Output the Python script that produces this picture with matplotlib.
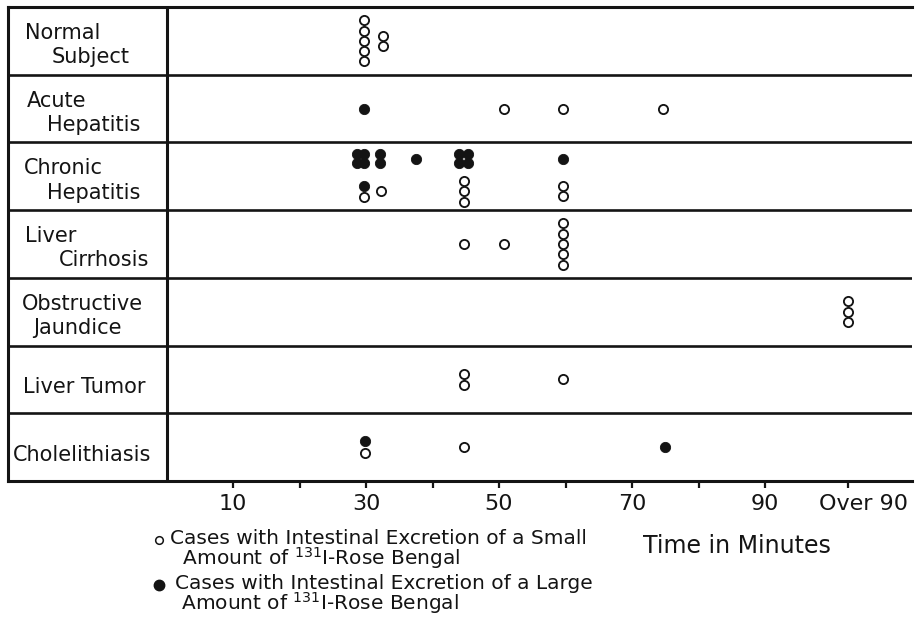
import matplotlib.pyplot as plt
from matplotlib.transforms import ScaledTranslation
import numpy as np

# rows of the table, top to bottom
categories = ['Normal Subject', 'Acute Hepatitis', 'Chronic Hepatitis',
              'Liver Cirrhosis', 'Obstructive Jaundice', 'Liver Tumor',
              'Cholelithiasis']
label_lines = [['Normal', 'Subject'], ['Acute', 'Hepatitis'],
               ['Chronic', 'Hepatitis'], ['Liver', 'Cirrhosis'],
               ['Obstructive', 'Jaundice'], ['Liver Tumor'],
               ['Cholelithiasis']]

# one entry per stacked column of cases
# marks top to bottom: o = small amount excreted, f = large amount excreted
case_rows = [0, 0,
             1, 1, 1, 1,
             2, 2, 2, 2, 2, 2, 2,
             2, 2, 2, 2,
             3, 3, 3,
             4,
             5, 5,
             6, 6, 6]
case_times = [29.7, 32.6,
              29.7, 50.7, 59.6, 74.6,
              28.6, 29.7, 32.1, 37.5, 44.0, 45.3, 59.6,
              29.7, 32.3, 44.7, 59.6,
              44.7, 50.7, 59.6,
              102.5,
              44.7, 59.6,
              29.8, 44.7, 74.9]
case_marks = ['ooooo', 'oo',
              'f', 'o', 'o', 'o',
              'ff', 'ff', 'ff', 'f', 'ff', 'ff', 'f',
              'fo', 'o', 'ooo', 'oo',
              'o', 'o', 'ooooo',
              'ooo',
              'oo', 'o',
              'fo', 'o', 'f']
case_tiers = ['mid', 'mid',
              'mid', 'mid', 'mid', 'mid',
              'up', 'up', 'up', 'up', 'up', 'up', 'up',
              'low', 'low', 'low', 'low',
              'mid', 'mid', 'mid',
              'mid',
              'mid', 'mid',
              'mid', 'mid', 'mid']

tick_pos = [10, 20, 30, 40, 50, 60, 70, 80, 90, 102.5]
tick_labels = ['10', '', '30', '', '50', '', '70', '', '90', 'Over 90']

key_small = 'Cases with Intestinal Excretion of a Small\n  Amount of $^{131}$I-Rose Bengal'
key_large = 'Cases with Intestinal Excretion of a Large\n Amount of $^{131}$I-Rose Bengal'
x_title = 'Time in Minutes'

ink = '#141414'
W, H = 921, 620
PX_PER_MIN = 6.65
ROW_PX = 67.7

fig = plt.figure(figsize=(W / 100, H / 100), dpi=100)
ax = fig.add_axes([8 / W, 1 - 481 / H, (912 - 8) / W, (481 - 7) / H])
ax.set_xlim((8 - 166.5) / PX_PER_MIN, (912 - 166.5) / PX_PER_MIN)
ax.set_ylim(len(categories), 0)

tier_shift = {'mid': 0.0, 'up': -17.5, 'low': 15.0}


def column_offsets(marks):
    pos = [0.0]
    for a, b in zip(marks[:-1], marks[1:]):
        if a == 'f' and b == 'f':
            gap = 9.0
        elif a != b:
            gap = 11.5
        else:
            gap = 10.3
        pos.append(pos[-1] + gap)
    pos = np.array(pos)
    return pos - pos.mean()


for r, t, m, tier in zip(case_rows, case_times, case_marks, case_tiers):
    ys = r + 0.5 + (tier_shift[tier] + column_offsets(m)) / ROW_PX
    for y, kind in zip(ys, m):
        if kind == 'o':
            ax.plot(t, y, 'o', ms=6.6, mfc='white', mec=ink, mew=1.35,
                    clip_on=False, zorder=3)
        else:
            ax.plot(t, y, 'o', ms=7.4, mfc=ink, mec=ink, mew=0.6,
                    clip_on=False, zorder=4)

# table rules
for i in range(1, len(categories)):
    ax.axhline(i, color=ink, lw=1.9)
ax.axvline(0, color=ink, lw=2.2)
for s in ['top', 'left', 'bottom']:
    ax.spines[s].set_linewidth(2.2)
    ax.spines[s].set_color(ink)
ax.spines['right'].set_visible(False)

# row labels
label_x = [[-21.3, -17.2], [-21.0, -18.0], [-21.4, -18.0], [-21.3, -16.2],
           [-21.7, -20.0], [-21.6], [-23.1]]
for r, (lines, xs) in enumerate(zip(label_lines, label_x)):
    fracs = [0.47, 0.83] if len(lines) == 2 else [0.70]
    for text, x, f in zip(lines, xs, fracs):
        ax.text(x, r + f, text, fontsize=15, color=ink, ha='left',
                va='baseline')

ax.set_yticks([])
ax.set_xticks(tick_pos)
ax.set_xticklabels(tick_labels)
ax.tick_params(axis='x', direction='out', length=5, width=1.6, pad=4,
               labelsize=16, colors=ink)
last = ax.get_xticklabels()[-1]
last.set_transform(last.get_transform() +
                   ScaledTranslation(0.15, 0, fig.dpi_scale_trans))

# key and axis title
fig.text(170 / W, 1 - 529 / H, key_small, fontsize=14.5, color=ink,
         va='top', linespacing=0.86)
fig.text(175 / W, 1 - 574 / H, key_large, fontsize=14.5, color=ink,
         va='top', linespacing=0.86)
fig.text(643 / W, 1 - 546 / H, x_title, fontsize=17, color=ink, va='center')
ax.plot([159 / W], [1 - 540 / H], 'o', ms=5.5, mfc='white', mec=ink, mew=1.1,
        transform=fig.transFigure, clip_on=False)
ax.plot([159 / W], [1 - 585 / H], 'o', ms=7.5, mfc=ink, mec=ink,
        transform=fig.transFigure, clip_on=False)

fig.savefig('out.png', dpi=100, facecolor='white')
